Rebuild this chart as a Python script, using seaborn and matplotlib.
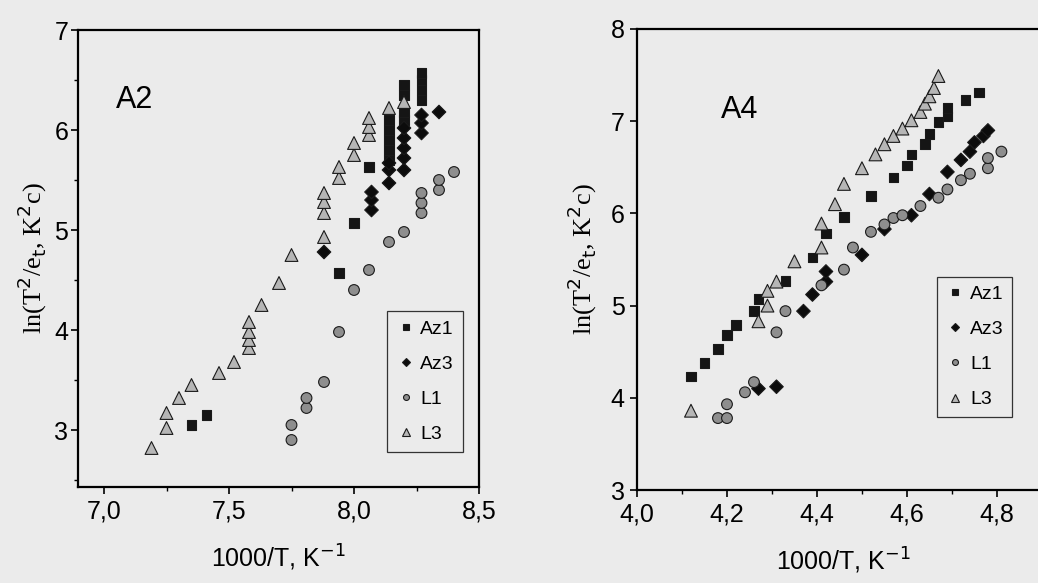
import pandas as pd
import matplotlib.pyplot as plt
import seaborn as sns
from matplotlib.ticker import FixedLocator, MultipleLocator

# ---- panel A2 ----
a2_az1_x = [7.35, 7.41, 7.94, 8.00, 8.06, 8.14, 8.14, 8.14, 8.14, 8.14, 8.20, 8.20, 8.20, 8.20, 8.27, 8.27, 8.27, 8.27]
a2_az1_y = [3.05, 3.15, 4.57, 5.07, 5.63, 5.70, 5.80, 5.90, 6.00, 6.10, 6.10, 6.18, 6.35, 6.45, 6.30, 6.40, 6.50, 6.57]
a2_az3_x = [7.88, 8.07, 8.07, 8.07, 8.14, 8.14, 8.14, 8.20, 8.20, 8.20, 8.20, 8.20, 8.27, 8.27, 8.27, 8.34]
a2_az3_y = [4.78, 5.20, 5.30, 5.38, 5.47, 5.60, 5.67, 5.60, 5.72, 5.82, 5.92, 6.02, 5.97, 6.07, 6.15, 6.18]
a2_l1_x = [7.75, 7.75, 7.81, 7.81, 7.88, 7.94, 8.00, 8.06, 8.14, 8.20, 8.27, 8.27, 8.27, 8.34, 8.34, 8.40]
a2_l1_y = [2.90, 3.05, 3.22, 3.32, 3.48, 3.98, 4.40, 4.60, 4.88, 4.98, 5.17, 5.27, 5.37, 5.40, 5.50, 5.58]
a2_l3_x = [7.19, 7.25, 7.25, 7.30, 7.35, 7.46, 7.52, 7.58, 7.58, 7.58, 7.58, 7.63, 7.70, 7.75, 7.88, 7.88,
           7.88, 7.88, 7.94, 7.94, 8.00, 8.00, 8.06, 8.06, 8.06, 8.14, 8.20]
a2_l3_y = [2.82, 3.02, 3.17, 3.32, 3.45, 3.57, 3.68, 3.82, 3.90, 3.98, 4.08, 4.25, 4.47, 4.75, 4.93, 5.17,
           5.28, 5.37, 5.52, 5.63, 5.75, 5.87, 5.95, 6.03, 6.12, 6.22, 6.28]

# ---- panel A4 ----
a4_az1_x = [4.12, 4.15, 4.18, 4.20, 4.22, 4.26, 4.27, 4.33, 4.39, 4.42, 4.46, 4.52, 4.57, 4.60, 4.61, 4.64,
            4.65, 4.67, 4.69, 4.69, 4.73, 4.76]
a4_az1_y = [4.23, 4.38, 4.53, 4.68, 4.79, 4.94, 5.07, 5.27, 5.52, 5.78, 5.96, 6.19, 6.39, 6.52, 6.64, 6.75,
            6.86, 6.99, 7.05, 7.14, 7.23, 7.31]
a4_az3_x = [4.27, 4.31, 4.37, 4.39, 4.42, 4.42, 4.50, 4.55, 4.61, 4.65, 4.69, 4.72, 4.74, 4.75, 4.77, 4.78]
a4_az3_y = [4.10, 4.12, 4.94, 5.12, 5.26, 5.37, 5.55, 5.83, 5.98, 6.21, 6.45, 6.58, 6.67, 6.77, 6.84, 6.90]
a4_l1_x = [4.18, 4.20, 4.20, 4.24, 4.26, 4.31, 4.33, 4.41, 4.46, 4.48, 4.52, 4.55, 4.57, 4.59, 4.63, 4.67,
           4.69, 4.72, 4.74, 4.78, 4.78, 4.81]
a4_l1_y = [3.78, 3.78, 3.93, 4.06, 4.17, 4.71, 4.94, 5.22, 5.39, 5.63, 5.80, 5.88, 5.95, 5.98, 6.08, 6.17,
           6.26, 6.36, 6.43, 6.49, 6.60, 6.67]
a4_l3_x = [4.12, 4.27, 4.29, 4.29, 4.31, 4.35, 4.41, 4.41, 4.44, 4.46, 4.50, 4.53, 4.55, 4.57, 4.59, 4.61,
           4.63, 4.64, 4.65, 4.66, 4.67]
a4_l3_y = [3.86, 4.83, 5.00, 5.16, 5.26, 5.48, 5.63, 5.89, 6.10, 6.32, 6.49, 6.64, 6.75, 6.84, 6.92, 7.01,
           7.10, 7.19, 7.27, 7.36, 7.49]

series_names = ["Az1", "Az3", "L1", "L3"]
a2_xticks = [7.0, 7.5, 8.0, 8.5]
a2_xticklabels = ["7,0", "7,5", "8,0", "8,5"]
a2_yticks = [3, 4, 5, 6, 7]
a4_xticks = [4.0, 4.2, 4.4, 4.6, 4.8]
a4_xticklabels = ["4,0", "4,2", "4,4", "4,6", "4,8"]
a4_yticks = [3, 4, 5, 6, 7, 8]


def make_frame(xs, ys):
    parts = []
    for name, x, y in zip(series_names, xs, ys):
        parts.append(pd.DataFrame({"x": x, "y": y, "series": name}))
    return pd.concat(parts, ignore_index=True)


df_a2 = make_frame([a2_az1_x, a2_az3_x, a2_l1_x, a2_l3_x], [a2_az1_y, a2_az3_y, a2_l1_y, a2_l3_y])
df_a4 = make_frame([a4_az1_x, a4_az3_x, a4_l1_x, a4_l3_x], [a4_az1_y, a4_az3_y, a4_l1_y, a4_l3_y])

sns.set_style("ticks")
bg = "#ebebeb"
plt.rcParams["font.family"] = ["Liberation Sans Narrow", "Liberation Sans", "DejaVu Sans"]
plt.rcParams["text.color"] = "black"
plt.rcParams["axes.labelcolor"] = "black"
plt.rcParams["xtick.color"] = "black"
plt.rcParams["ytick.color"] = "black"

palette = {"Az1": "#151515", "Az3": "#0c0c0c", "L1": "#8e8e8e", "L3": "#b6b6b6"}
markers = {"Az1": "s", "Az3": "D", "L1": "o", "L3": "^"}
sizes = {"Az1": 48, "Az3": 48, "L1": 60, "L3": 85}

fig = plt.figure(figsize=(10.38, 5.83), dpi=100, facecolor=bg)
ax1 = fig.add_axes([78 / 1038, 1 - 487 / 583, 401 / 1038, 457 / 583])
ax2 = fig.add_axes([637 / 1038, 1 - 490 / 583, 413 / 1038, 461 / 583])

for ax, df in [(ax1, df_a2), (ax2, df_a4)]:
    ax.set_facecolor(bg)
    sns.scatterplot(data=df, x="x", y="y", hue="series", style="series", size="series",
                    palette=palette, markers=markers, sizes=sizes,
                    hue_order=series_names, style_order=series_names, size_order=series_names,
                    edgecolor="#1a1a1a", linewidth=0.8, ax=ax)
    for sp in ax.spines.values():
        sp.set_linewidth(1.6)
        sp.set_color("black")
    ax.tick_params(direction="out", length=5, width=1.2, labelsize=18, pad=4)
    ax.tick_params(which="minor", direction="out", length=3, width=1)
    ax.set_xlabel("1000/T, K$^{-1}$", fontsize=18, labelpad=14)

ax1.set_xlim(6.896, 8.5)
ax1.set_ylim(2.43, 7.0)
ax1.xaxis.set_major_locator(FixedLocator(a2_xticks))
ax1.set_xticklabels(a2_xticklabels)
ax1.xaxis.set_minor_locator(MultipleLocator(0.25))
ax1.set_yticks(a2_yticks)
ax1.yaxis.set_minor_locator(MultipleLocator(0.5))
ax1.tick_params(axis="y", pad=2)

ax2.set_xlim(4.0, 4.918)
ax2.set_ylim(3.0, 8.0)
ax2.xaxis.set_major_locator(FixedLocator(a4_xticks))
ax2.set_xticklabels(a4_xticklabels)
ax2.xaxis.set_minor_locator(MultipleLocator(0.1))
ax2.set_yticks(a4_yticks)
ax2.spines["right"].set_visible(False)

ylab = "ln(T$^2$/e$_\\mathrm{t}$, K$^2$c)"
serif = ["Liberation Serif", "DejaVu Serif"]
ax1.set_ylabel(ylab, fontsize=19, family=serif, labelpad=4)
ax2.set_ylabel(ylab, fontsize=19, family=serif, labelpad=8)

ax1.text(0.14, 0.847, "A2", transform=ax1.transAxes, fontsize=22, ha="center", va="center")
ax2.text(0.249, 0.825, "A4", transform=ax2.transAxes, fontsize=22, ha="center", va="center")

leg_kw = dict(title=None, frameon=True, fancybox=False, fontsize=14, markerscale=0.55,
              labelspacing=0.9, handletextpad=0.25, borderpad=0.45, handlelength=1.0,
              borderaxespad=0, edgecolor="#333333", facecolor=bg, framealpha=1)
sns.move_legend(ax1, "lower left", bbox_to_anchor=(0.771, 0.077), **leg_kw)
sns.move_legend(ax2, "lower left", bbox_to_anchor=(0.726, 0.158), **leg_kw)
for ax in (ax1, ax2):
    leg = ax.get_legend()
    leg.get_frame().set_linewidth(0.9)
    for t in leg.get_texts():
        t.set_color("black")

fig.savefig("out.png", dpi=100, facecolor=bg)
